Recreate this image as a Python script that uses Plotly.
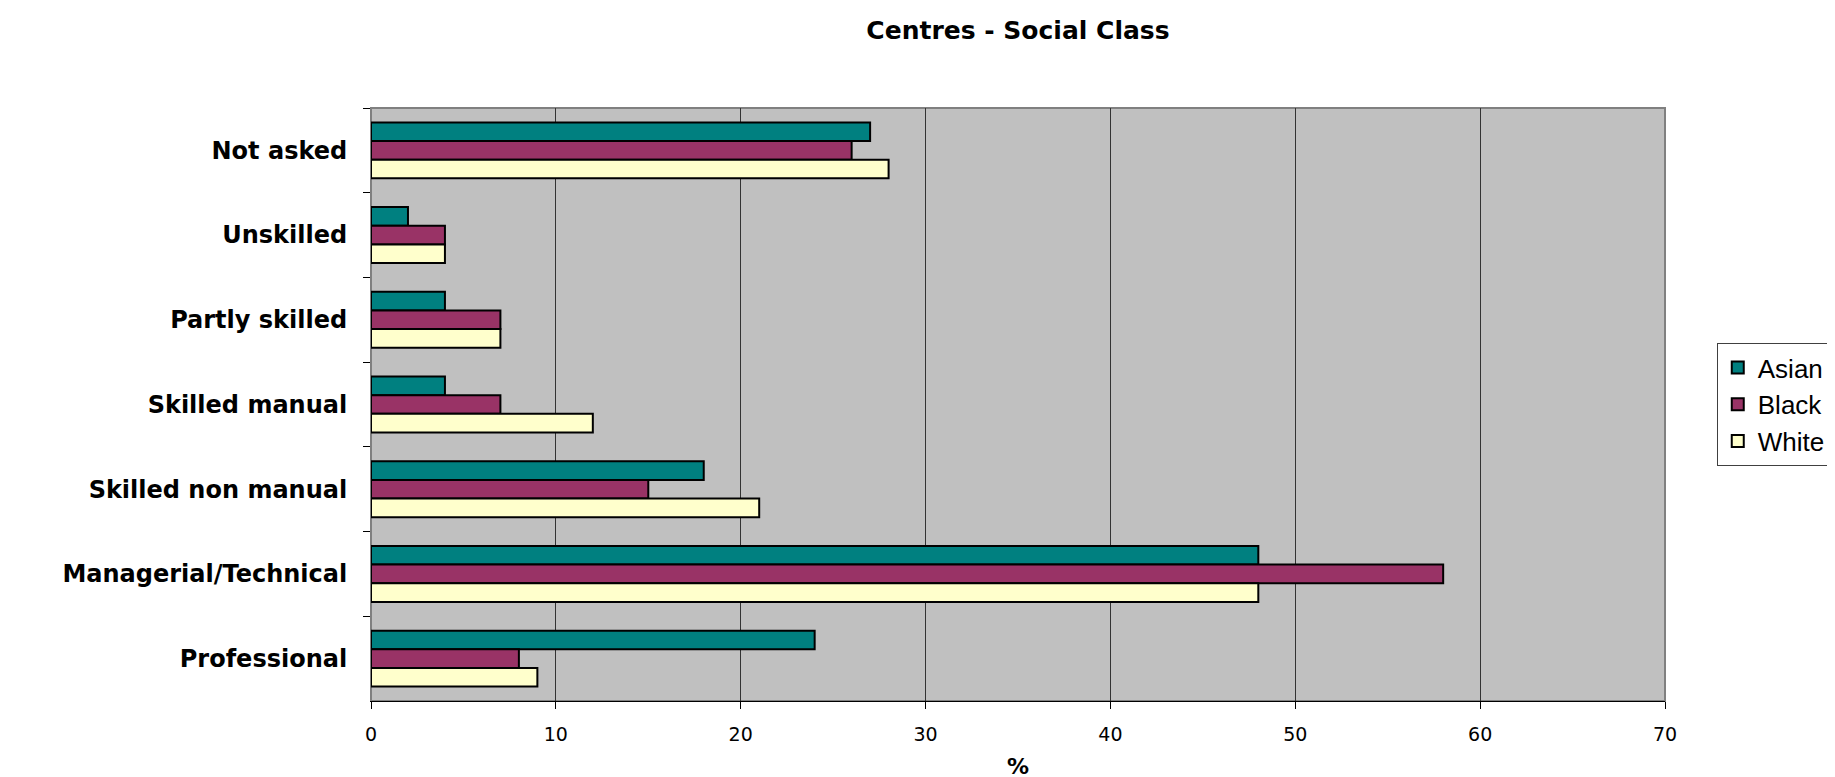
import plotly.graph_objects as go

# categories listed top to bottom as in the chart
categories = ["Not asked", "Unskilled", "Partly skilled", "Skilled manual",
              "Skilled non manual", "Managerial/Technical", "Professional"]
asian = [27, 2, 4, 4, 18, 48, 24]
black = [26, 4, 7, 7, 15, 58, 8]
white = [28, 4, 7, 12, 21, 48, 9]
x_ticks = [0, 10, 20, 30, 40, 50, 60, 70]

series = [("Asian", asian, "#008080"),
          ("Black", black, "#993366"),
          ("White", white, "#FFFFCC")]

fig = go.Figure()
for name, vals, col in series:
    fig.add_trace(go.Bar(
        y=categories, x=vals, name=name, orientation="h",
        marker=dict(color=col, line=dict(color="black", width=2)),
    ))

fig.update_layout(
    width=1835, height=777,
    barmode="group", bargap=0.34, bargroupgap=0,
    plot_bgcolor="#C0C0C0", paper_bgcolor="white",
    margin=dict(l=363, r=171, t=100, b=84),
    title=dict(text="<b>Centres - Social Class</b>", x=0.5, xref="paper",
               y=0.972, yanchor="middle",
               font=dict(family="DejaVu Sans", size=25, color="black")),
    legend=dict(x=1.04, y=0.50, xanchor="left", yanchor="middle",
                bgcolor="white", bordercolor="#404040", borderwidth=1,
                font=dict(family="Liberation Sans", size=26, color="black"),
                tracegroupgap=0, itemsizing="constant", itemwidth=30),
    showlegend=True,
)
fig.update_xaxes(
    range=[0, 70], tickvals=x_ticks, showgrid=True, gridcolor="#333333", gridwidth=1,
    showline=True, linecolor="black", linewidth=1, mirror=False,
    ticks="outside", ticklen=7, tickcolor="black", ticklabelstandoff=9,
    tickfont=dict(family="DejaVu Sans", size=19, color="black"),
    zeroline=False,
    title=dict(text="<b>%</b>", standoff=14,
               font=dict(family="DejaVu Sans", size=22, color="black")),
    fixedrange=True,
)
fig.update_yaxes(
    autorange="reversed", showgrid=False,
    showline=True, linecolor="#808080", linewidth=1,
    ticks="outside", tickson="boundaries", ticklen=7, tickcolor="black",
    ticklabelstandoff=18,
    tickfont=dict(family="DejaVu Sans", size=24, color="black", weight="bold"),
    fixedrange=True,
)
# grey border along top and right of the plot area
fig.add_shape(type="rect", xref="x domain", yref="y domain", x0=0, x1=1, y0=0, y1=1,
              line=dict(color="#808080", width=2), layer="below")

fig.write_html("out.html")
